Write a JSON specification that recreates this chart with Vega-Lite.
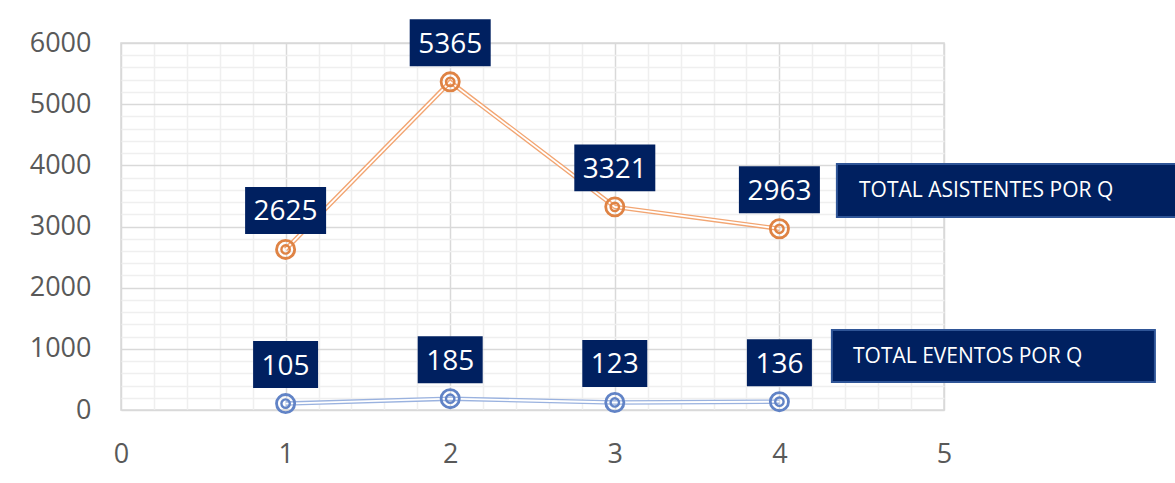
{
  "$schema": "https://vega.github.io/schema/vega-lite/v6.json",
  "width": 823,
  "height": 367,
  "autosize": "none",
  "padding": {"left": 121, "top": 43, "right": 231, "bottom": 73},
  "background": "white",
  "config": {"view": {"stroke": "#d9d9d9", "strokeWidth": 1.5}, "font": "Open Sans"},
  "data": {"values": [
    {"q": 1, "serie": "TOTAL ASISTENTES POR Q", "v": 2625},
    {"q": 2, "serie": "TOTAL ASISTENTES POR Q", "v": 5365},
    {"q": 3, "serie": "TOTAL ASISTENTES POR Q", "v": 3321},
    {"q": 4, "serie": "TOTAL ASISTENTES POR Q", "v": 2963},
    {"q": 1, "serie": "TOTAL EVENTOS POR Q", "v": 105},
    {"q": 2, "serie": "TOTAL EVENTOS POR Q", "v": 185},
    {"q": 3, "serie": "TOTAL EVENTOS POR Q", "v": 123},
    {"q": 4, "serie": "TOTAL EVENTOS POR Q", "v": 136}
  ]},
  "encoding": {
    "x": {"field": "q", "type": "quantitative", "scale": {"domain": [0, 5], "nice": false, "zero": false},
      "axis": {"title": null, "domain": false, "ticks": false, "tickSize": 0,
        "values": [0,0.2,0.4,0.6,0.8,1,1.2,1.4,1.6,1.8,2,2.2,2.4,2.6,2.8,3,3.2,3.4,3.6,3.8,4,4.2,4.4,4.6,4.8,5],
        "labelExpr": "datum.value % 1 === 0 ? format(datum.value, 'd') : ''",
        "labelOverlap": false, "labelFlush": false,
        "labelFont": "Open Sans", "labelFontSize": 27, "labelColor": "#595959", "labelBaseline": "middle", "labelPadding": 44,
        "grid": true, "gridWidth": 1.5,
        "gridColor": {"condition": {"test": "datum.value % 1 === 0", "value": "#d9d9d9"}, "value": "#efefef"}}},
    "y": {"field": "v", "type": "quantitative", "scale": {"domain": [0, 6000], "nice": false},
      "axis": {"title": null, "domain": false, "ticks": false, "tickSize": 0,
        "values": [0,200,400,600,800,1000,1200,1400,1600,1800,2000,2200,2400,2600,2800,3000,3200,3400,3600,3800,4000,4200,4400,4600,4800,5000,5200,5400,5600,5800,6000],
        "labelExpr": "datum.value % 1000 === 0 ? format(datum.value, 'd') : ''",
        "labelOverlap": false, "labelFlush": false,
        "labelFont": "Open Sans", "labelFontSize": 27, "labelColor": "#595959", "labelPadding": 30,
        "grid": true, "gridWidth": 1.5,
        "gridColor": {"condition": {"test": "datum.value % 1000 === 0", "value": "#d9d9d9"}, "value": "#efefef"}}}
  },
  "layer": [
    {
      "mark": {"type": "line", "strokeWidth": 4.5},
      "encoding": {
        "color": {"field": "serie", "type": "nominal", "legend": null,
          "scale": {"domain": ["TOTAL ASISTENTES POR Q", "TOTAL EVENTOS POR Q"], "range": ["#F2A572", "#9AB2DF"]}}
      }
    },
    {
      "mark": {"type": "line", "strokeWidth": 1.8, "color": "white"},
      "encoding": {
        "detail": {"field": "serie"}
      }
    },
    {
      "mark": {"type": "point", "shape": "circle", "filled": false, "size": 330, "strokeWidth": 2.8, "opacity": 1},
      "encoding": {
        "stroke": {"field": "serie", "type": "nominal", "legend": null,
          "scale": {"domain": ["TOTAL ASISTENTES POR Q", "TOTAL EVENTOS POR Q"], "range": ["#DF8344", "#6183C6"]}}
      }
    },
    {
      "mark": {"type": "point", "shape": "circle", "filled": false, "size": 70, "strokeWidth": 2.4, "opacity": 1},
      "encoding": {
        "stroke": {"field": "serie", "type": "nominal", "legend": null}
      }
    },
    {
      "transform": [{"filter": "datum.v >= 1000"}],
      "mark": {"type": "point", "shape": "M-1,-0.58L1,-0.58L1,0.58L-1,0.58Z", "size": 6561, "filled": true, "fill": "#002060", "opacity": 1, "strokeWidth": 0, "yOffset": -39}
    },
    {
      "transform": [{"filter": "datum.v < 1000"}],
      "mark": {"type": "point", "shape": "M-1,-0.723L1,-0.723L1,0.723L-1,0.723Z", "size": 4225, "filled": true, "fill": "#002060", "opacity": 1, "strokeWidth": 0, "yOffset": -39}
    },
    {
      "mark": {"type": "text", "color": "white", "font": "Open Sans", "fontSize": 28, "align": "center", "baseline": "middle", "yOffset": -37},
      "encoding": {
        "text": {"field": "v", "type": "quantitative", "format": "d"}
      }
    },
    {
      "transform": [{"filter": "datum.q === 4 && datum.v >= 1000"}],
      "mark": {"type": "point", "shape": "M-1,-0.1545L1,-0.1545L1,0.1545L-1,0.1545Z", "size": 117649, "filled": true, "fill": "#002060", "stroke": "#2F5597", "strokeWidth": 2, "opacity": 1, "xOffset": 229, "yOffset": -38.3}
    },
    {
      "transform": [{"filter": "datum.q === 4 && datum.v >= 1000"}],
      "mark": {"type": "text", "color": "white", "font": "Open Sans", "fontSize": 21, "align": "left", "baseline": "middle", "xOffset": 79.6, "yOffset": -37.5},
      "encoding": {
        "text": {"field": "serie"}
      }
    },
    {
      "transform": [{"filter": "datum.q === 4 && datum.v < 1000"}],
      "mark": {"type": "point", "shape": "M-1,-0.161L1,-0.161L1,0.161L-1,0.161Z", "size": 104329, "filled": true, "fill": "#002060", "stroke": "#2F5597", "strokeWidth": 2, "opacity": 1, "xOffset": 214, "yOffset": -45.7}
    },
    {
      "transform": [{"filter": "datum.q === 4 && datum.v < 1000"}],
      "mark": {"type": "text", "color": "white", "font": "Open Sans", "fontSize": 21, "align": "left", "baseline": "middle", "xOffset": 73.6, "yOffset": -45},
      "encoding": {
        "text": {"field": "serie"}
      }
    },
    {
      "data": {"values": [{}]},
      "mark": {"type": "rect", "fill": "white", "fillOpacity": 0, "stroke": "#d9d9d9", "strokeWidth": 2},
      "encoding": {
        "x": {"datum": -0.674, "type": "quantitative"},
        "x2": {"datum": 5.231},
        "y": {"datum": 6507, "type": "quantitative"},
        "y2": {"datum": -1471}
      }
    }
  ]
}
